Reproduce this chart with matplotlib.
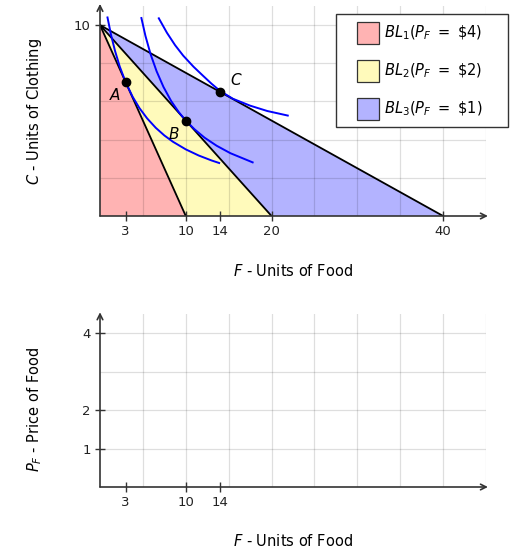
import numpy as np
import matplotlib.pyplot as plt
from matplotlib.patches import Rectangle

plt.rcParams['font.family'] = ['DejaVu Sans']
plt.rcParams['mathtext.fontset'] = 'dejavusans'

# budget lines: all start at C = 10, food intercept depends on P_F
clothing_max = 10
food_max = [10, 20, 40]
prices = [4, 2, 1]
fill_colors = ['#ffb3b3', '#fffabb', '#b3b3ff']
bl_labels = [r'$BL_{%d}(P_F\ =\ \$%d)$' % (i + 1, p) for i, p in enumerate(prices)]

# chosen bundles
bundle_names = ['A', 'B', 'C']
bundle_F = [3, 10, 14]
bundle_C = [7, 5, 6.5]
name_F = [1.75, 8.6, 15.9]
name_C = [6.35, 4.3, 7.1]

# indifference curves
u1_F = [0.85, 1.3, 1.75, 2.3, 3.0, 3.8, 4.6, 5.5, 6.5, 7.5, 8.5, 10, 11.5, 13, 14]
u1_C = [10.45, 9.46, 8.65, 7.83, 7.0, 6.25, 5.65, 5.11, 4.62, 4.22, 3.89, 3.49, 3.17, 2.91, 2.76]
u2_F = [4.8, 5.3, 5.9, 6.6, 7.4, 8.3, 9.2, 10, 11, 12.2, 13.6, 15.2, 17.9]
u2_C = [10.42, 9.43, 8.47, 7.58, 6.76, 6.02, 5.43, 5.0, 4.55, 4.10, 3.68, 3.29, 2.79]
u3_F = [6.8, 7.8, 8.75, 9.7, 10.9, 12.0, 13.0, 14.0, 15.5, 17.5, 19.5, 22.0]
u3_C = [10.40, 9.60, 8.95, 8.40, 7.82, 7.35, 6.93, 6.55, 6.14, 5.78, 5.50, 5.25]

# lower panel ticks
low_xticks = [3, 10, 14]
low_yticks = [1, 2, 4]

W, H = 512, 551
TICK_FS = 9.5
LAB_FS = 10.5
fig = plt.figure(figsize=(W / 100, H / 100), dpi=100)


def px(x0, y0, x1, y1):
    """pixel box (top-left origin) -> figure fraction rect"""
    return [x0 / W, 1 - y1 / H, (x1 - x0) / W, (y1 - y0) / H]


def style_axes(ax, xlim, ylim, xgrid, ygrid, xticks, yticks):
    ax.set_xlim(*xlim)
    ax.set_ylim(*ylim)
    for x in xgrid:
        ax.axvline(x, color='k', alpha=0.13, lw=0.9, zorder=2)
    for y in ygrid:
        ax.axhline(y, color='k', alpha=0.13, lw=0.9, zorder=2)
    ax.set_xticks(xticks)
    ax.set_yticks(yticks)
    ax.set_axisbelow(False)
    ax.tick_params(direction='inout', length=7.5, width=1,
                   color='#333333', labelsize=TICK_FS, pad=3, labelcolor='#222222')
    for s in ax.spines.values():
        s.set_visible(False)
    arrow = dict(arrowstyle='->', lw=1.2, color='#333333', shrinkA=0, shrinkB=0)
    ax.annotate('', xy=(1.005, 0), xytext=(0, 0), xycoords='axes fraction',
                arrowprops=arrow, annotation_clip=False)
    ax.annotate('', xy=(0, 1.01), xytext=(0, 0), xycoords='axes fraction',
                arrowprops=arrow, annotation_clip=False)


# ---- upper panel ----
ax1 = fig.add_axes(px(100, 6, 486, 216))
for fm, col in reversed(list(zip(food_max, fill_colors))):
    ax1.fill([0, fm, 0], [clothing_max, 0, 0], color=col, lw=0, zorder=1)
for fm in food_max:
    ax1.plot([0, fm], [clothing_max, 0], color='k', lw=1.3, zorder=3)

for f, c in [(u1_F, u1_C), (u2_F, u2_C), (u3_F, u3_C)]:
    ax1.plot(f, c, color='#0000ff', lw=1.4, zorder=4, solid_capstyle='butt')

ax1.plot(bundle_F, bundle_C, 'o', color='k', ms=6, zorder=5)
for n, f, c in zip(bundle_names, name_F, name_C):
    ax1.text(f, c, '$%s$' % n, fontsize=11, ha='center', va='center', zorder=6)

style_axes(ax1, (0, 45), (0, 11), np.arange(5, 46, 5), np.arange(2, 11, 2),
           [3, 10, 14, 20, 40], [10])
ax1.set_xlabel('$F$ - Units of Food', fontsize=LAB_FS)
ax1.set_ylabel('$C$ - Units of Clothing', fontsize=LAB_FS)
ax1.xaxis.set_label_coords(0.5, -47 / 210)
ax1.yaxis.set_label_coords(-56 / 386, 0.5)

# legend drawn by hand in pixel coords
fig.add_artist(Rectangle((336 / W, 1 - 127 / H), 172 / W, 113 / H,
                         transform=fig.transFigure, facecolor='white',
                         edgecolor='#333333', lw=1, zorder=10))
for i, (col, lab) in enumerate(zip(fill_colors, bl_labels)):
    yc = 33 + 38 * i
    fig.add_artist(Rectangle((357 / W, 1 - (yc + 11) / H), 22 / W, 22 / H,
                             transform=fig.transFigure, facecolor=col,
                             edgecolor='#333333', lw=0.9, zorder=11))
    fig.text(384 / W, 1 - yc / H, lab, fontsize=LAB_FS, va='center', ha='left',
             zorder=12)

# ---- lower panel ----
ax2 = fig.add_axes(px(100, 314, 486, 487))
style_axes(ax2, (0, 45), (0, 4.5), np.arange(5, 46, 5), np.arange(1, 5, 1),
           low_xticks, low_yticks)
ax2.set_xlabel('$F$ - Units of Food', fontsize=LAB_FS)
ax2.set_ylabel('$P_F$ - Price of Food', fontsize=LAB_FS)
ax2.xaxis.set_label_coords(0.5, -46 / 173)
ax2.yaxis.set_label_coords(-56 / 386, 78 / 173)

fig.savefig('out.png', dpi=100)
